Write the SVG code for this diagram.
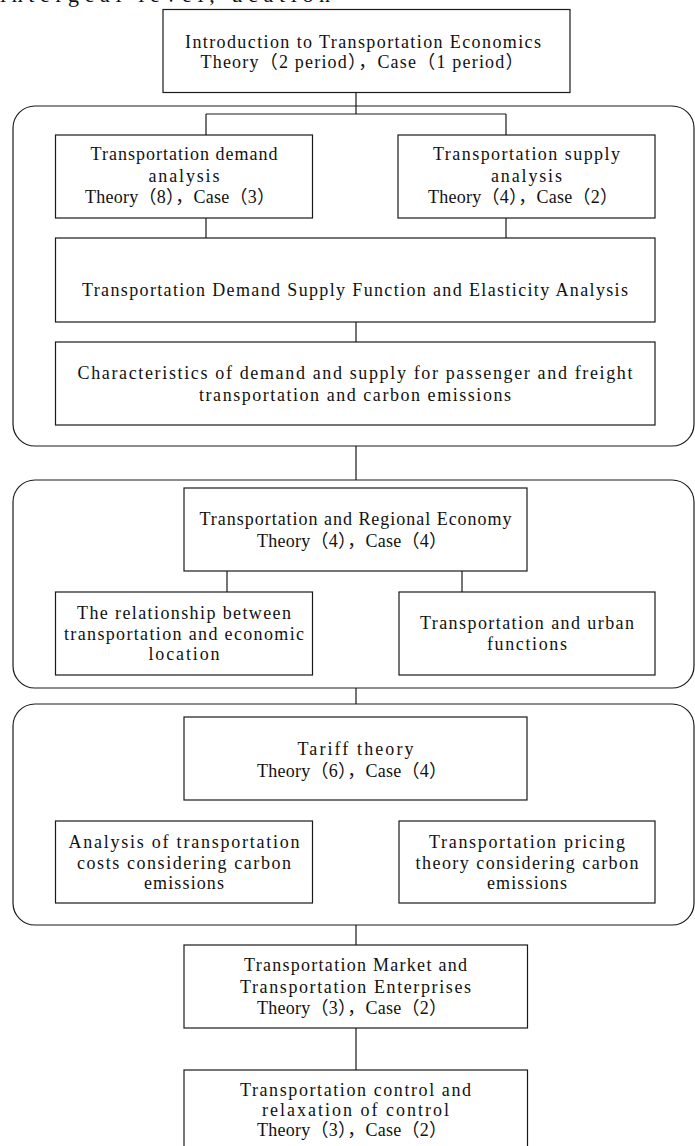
<svg xmlns="http://www.w3.org/2000/svg" width="695" height="1146" viewBox="0 0 695 1146">
<style>
.box{fill:#fff;stroke:#1a1a1a;stroke-width:1.2}
.grp{fill:none;stroke:#1a1a1a;stroke-width:1.2}
.ln{fill:none;stroke:#1a1a1a;stroke-width:1.2}
.t{font-family:"Liberation Serif","Noto Sans CJK SC",serif;font-size:18px;fill:#111;text-anchor:middle}
.frag{font-family:"Liberation Serif",serif;font-size:22px;fill:#111}
</style>
<rect width="695" height="1146" fill="#fff"/>
<text class="frag" x="0" y="2" textLength="330" lengthAdjust="spacing">intergeal   level,   ucation</text>
<g id="groups">
<rect class="grp" x="13" y="106" width="681" height="340" rx="22"/>
<rect class="grp" x="13" y="480" width="681" height="208" rx="22"/>
<rect class="grp" x="13" y="704" width="681" height="221" rx="22"/>
</g>
<g id="connectors">
<path class="ln" d="M356 93V114M206 114H506M206 114V135M506 114V135M206 218V238M506 218V238M356 322V342M356 446V480M227 571V592M462 571V592M356 688V704M356 925V945M356 1028V1070"/>
</g>
<g id="intro">
<rect class="box" x="163" y="9.5" width="407" height="83"/>
<text class="t" x="363" y="48" textLength="356" lengthAdjust="spacing">Introduction to Transportation Economics</text>
<text class="t" x="362" y="68" textLength="323" lengthAdjust="spacing">Theory（2  period），Case（1 period）</text>
</g>
<g id="demand">
<rect class="box" x="55.5" y="135" width="257" height="83"/>
<text class="t" x="184" y="160" textLength="187" lengthAdjust="spacing">Transportation demand</text>
<text class="t" x="184" y="182" textLength="71" lengthAdjust="spacing">analysis</text>
<text class="t" x="180" y="203" textLength="190" lengthAdjust="spacing">Theory（8），Case（3）</text>
</g>
<g id="supply">
<rect class="box" x="398" y="135" width="257" height="83"/>
<text class="t" x="526.5" y="160" textLength="187" lengthAdjust="spacing">Transportation supply</text>
<text class="t" x="526.5" y="182" textLength="71" lengthAdjust="spacing">analysis</text>
<text class="t" x="523" y="203" textLength="190" lengthAdjust="spacing">Theory（4），Case（2）</text>
</g>
<g id="function">
<rect class="box" x="55.5" y="238" width="599.5" height="84"/>
<text class="t" x="355" y="296" textLength="546" lengthAdjust="spacing">Transportation Demand Supply Function and Elasticity Analysis</text>
</g>
<g id="characteristics">
<rect class="box" x="55.5" y="342" width="599.5" height="83"/>
<text class="t" x="355" y="379" textLength="555" lengthAdjust="spacing">Characteristics of demand and supply for passenger and freight</text>
<text class="t" x="355" y="401" textLength="312" lengthAdjust="spacing">transportation and carbon emissions</text>
</g>
<g id="regional">
<rect class="box" x="184" y="488" width="343" height="83"/>
<text class="t" x="355.5" y="525" textLength="312" lengthAdjust="spacing">Transportation and Regional Economy</text>
<text class="t" x="352" y="547" textLength="190" lengthAdjust="spacing">Theory（4），Case（4）</text>
</g>
<g id="location">
<rect class="box" x="55.5" y="592" width="257" height="83"/>
<text class="t" x="184" y="619" textLength="214" lengthAdjust="spacing">The relationship between</text>
<text class="t" x="184" y="640" textLength="240" lengthAdjust="spacing">transportation and economic</text>
<text class="t" x="184" y="660" textLength="71" lengthAdjust="spacing">location</text>
</g>
<g id="urban">
<rect class="box" x="399" y="592" width="256" height="83"/>
<text class="t" x="527" y="629" textLength="214" lengthAdjust="spacing">Transportation and urban</text>
<text class="t" x="527" y="650" textLength="80" lengthAdjust="spacing">functions</text>
</g>
<g id="tariff">
<rect class="box" x="184" y="717" width="343" height="83"/>
<text class="t" x="355.5" y="755" textLength="116" lengthAdjust="spacing">Tariff theory</text>
<text class="t" x="352" y="777" textLength="190" lengthAdjust="spacing">Theory（6），Case（4）</text>
</g>
<g id="costs">
<rect class="box" x="55.5" y="821" width="257" height="82"/>
<text class="t" x="184" y="848" textLength="231" lengthAdjust="spacing">Analysis of transportation</text>
<text class="t" x="184" y="869" textLength="214" lengthAdjust="spacing">costs considering carbon</text>
<text class="t" x="184" y="889" textLength="80" lengthAdjust="spacing">emissions</text>
</g>
<g id="pricing">
<rect class="box" x="399" y="821" width="256" height="82"/>
<text class="t" x="527" y="848" textLength="196" lengthAdjust="spacing">Transportation pricing</text>
<text class="t" x="527" y="869" textLength="223" lengthAdjust="spacing">theory considering carbon</text>
<text class="t" x="527" y="889" textLength="80" lengthAdjust="spacing">emissions</text>
</g>
<g id="market">
<rect class="box" x="184" y="945" width="343.5" height="83"/>
<text class="t" x="355.5" y="971" textLength="223" lengthAdjust="spacing">Transportation Market and</text>
<text class="t" x="355.5" y="993" textLength="231" lengthAdjust="spacing">Transportation Enterprises</text>
<text class="t" x="352" y="1014" textLength="190" lengthAdjust="spacing">Theory（3），Case（2）</text>
</g>
<g id="control">
<rect class="box" x="184" y="1070" width="343.5" height="100"/>
<text class="t" x="355.5" y="1096" textLength="231" lengthAdjust="spacing">Transportation control and</text>
<text class="t" x="355.5" y="1116" textLength="187" lengthAdjust="spacing">relaxation of control</text>
<text class="t" x="352" y="1136" textLength="190" lengthAdjust="spacing">Theory（3），Case（2）</text>
</g>
</svg>
